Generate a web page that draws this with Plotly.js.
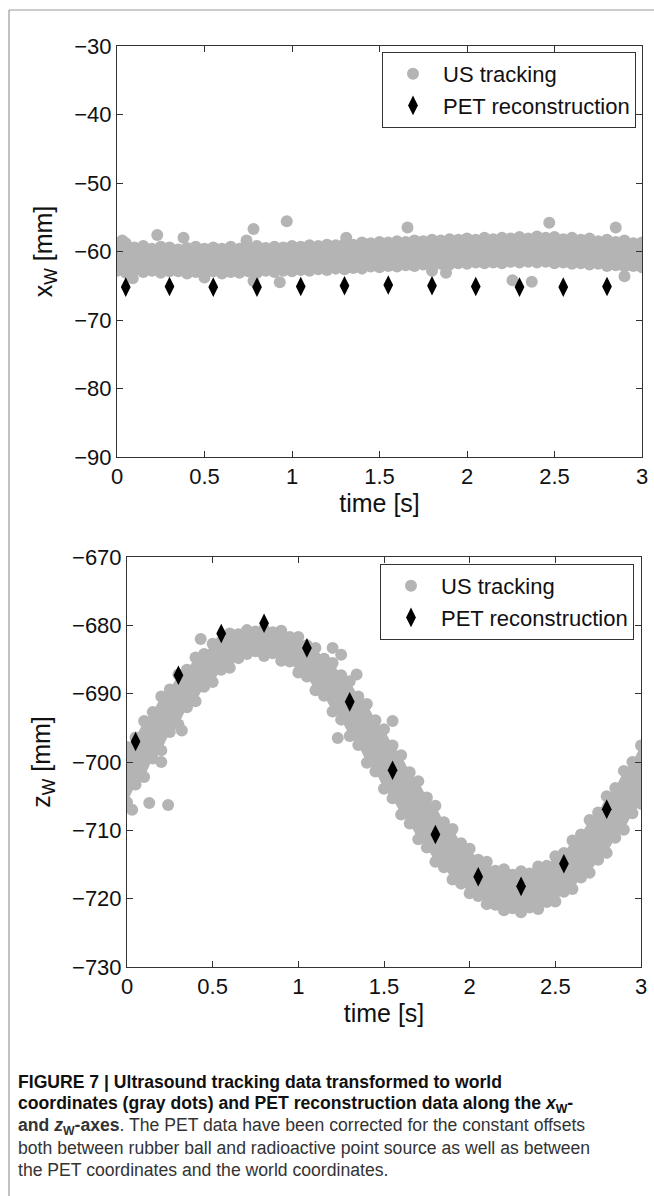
<!DOCTYPE html>
<html>
<head>
<meta charset="utf-8">
<script src="https://cdn.plot.ly/plotly-3.0.1.min.js"></script>
<style>html,body{margin:0;padding:0;background:#fff;}#chart{width:654px;height:1196px;}</style>
</head>
<body>
<div id="chart"></div>
<script>
// ---- data ----
const usTime = [0,0.05,0.1,0.15,0.2,0.25,0.3,0.35,0.4,0.45,0.5,0.55,0.6,0.65,0.7,0.75,0.8,0.85,0.9,0.95,1,1.05,1.1,1.15,1.2,1.25,1.3,1.35,1.4,1.45,1.5,1.55,1.6,1.65,1.7,1.75,1.8,1.85,1.9,1.95,2,2.05,2.1,2.15,2.2,2.25,2.3,2.35,2.4,2.45,2.5,2.55,2.6,2.65,2.7,2.75,2.8,2.85,2.9,2.95,3];

// x_W : upper and lower edge of the US tracking band (dot centres)
const usXUpper = [-59.1,-58.8,-59.4,-59.2,-59.6,-59.3,-59.4,-59.7,-59.5,-59.3,-59.6,-59.4,-59.6,-59.3,-59.6,-59.4,-59.2,-59.5,-59.3,-59.4,-59.2,-59.3,-59.1,-59.2,-59.0,-59.1,-58.9,-59.0,-58.7,-58.8,-58.6,-58.7,-58.5,-58.6,-58.4,-58.5,-58.3,-58.4,-58.2,-58.3,-58.1,-58.3,-58.0,-58.2,-58.0,-58.1,-57.9,-58.1,-57.8,-58.0,-57.9,-58.2,-58.0,-58.3,-58.1,-58.5,-58.3,-58.6,-58.4,-58.8,-58.7];
const usXLower = [-62.8,-63.1,-62.7,-63.0,-62.8,-63.1,-62.9,-62.9,-63.2,-63.0,-63.1,-62.9,-63.2,-63.0,-63.1,-62.9,-63.1,-62.8,-63.0,-62.8,-62.9,-62.7,-62.8,-62.6,-62.7,-62.5,-62.6,-62.4,-62.5,-62.2,-62.3,-62.1,-62.2,-62.0,-62.1,-61.9,-62.0,-61.8,-61.9,-61.7,-61.8,-61.6,-61.7,-61.6,-61.7,-61.5,-61.6,-61.5,-61.6,-61.5,-61.7,-61.6,-61.8,-61.7,-61.9,-61.8,-62.1,-62.0,-62.2,-62.1,-62.3];
const usXOutT = [0.03,0.23,0.38,0.74,0.78,0.97,1.31,1.66,2.47,2.85,0.09,0.5,0.78,0.93,1.8,1.88,2.26,2.37,2.9];
const usXOutV = [-58.4,-57.6,-58.0,-58.4,-56.7,-55.6,-58.0,-56.5,-55.8,-56.5,-63.9,-63.8,-64.3,-64.5,-62.8,-63.1,-64.2,-64.4,-63.6];

// z_W : upper and lower edge of the US tracking band (dot centres)
const usZUpper = [-697.8,-696.4,-694.0,-692.7,-690.4,-689.4,-687.2,-686.5,-684.7,-684.2,-682.7,-682.4,-681.2,-681.3,-680.7,-680.9,-680.6,-681.0,-680.8,-681.7,-681.7,-682.9,-683.3,-684.9,-685.5,-687.3,-688.2,-690.4,-691.5,-693.9,-695.2,-697.6,-699.0,-701.5,-702.8,-705.2,-706.4,-708.8,-709.8,-711.9,-712.7,-714.3,-714.6,-715.9,-715.7,-716.5,-716.0,-716.3,-715.3,-715.2,-713.8,-713.3,-711.5,-710.6,-708.5,-707.4,-705.0,-703.8,-701.3,-700.0,-697.6];
const usZLower = [-705.9,-703.3,-702.2,-699.5,-698.3,-695.6,-694.5,-692.0,-691.1,-689.0,-688.3,-686.5,-686.2,-684.8,-684.2,-683.8,-684.5,-684.1,-685.2,-685.3,-686.9,-687.5,-689.5,-690.3,-692.6,-693.8,-696.2,-697.5,-700.1,-701.4,-703.9,-705.3,-707.7,-709.0,-711.3,-712.5,-714.6,-715.4,-717.2,-717.8,-719.2,-719.6,-720.8,-720.9,-721.7,-721.4,-722.0,-721.3,-721.5,-720.5,-720.4,-719.0,-718.6,-716.9,-716.2,-714.3,-713.3,-711.1,-709.9,-707.5,-706.1];
const usZOutT = [0.03,0.13,0.24,0.2,0.32,0.43,1.2,1.25,1.34,1.23,1.55,2.3];
const usZOutV = [-707.0,-706.0,-706.3,-700.0,-695.4,-682.0,-683.3,-684.3,-687.2,-696.5,-694.0,-716.2];

// PET reconstruction
const petTime = [0.05,0.3,0.55,0.8,1.05,1.3,1.55,1.8,2.05,2.3,2.55,2.8];
const petX = [-65.2,-65.1,-65.2,-65.2,-65.1,-65.0,-64.9,-65.0,-65.1,-65.2,-65.2,-65.1];
const petZ = [-697.0,-687.3,-681.2,-679.7,-683.3,-691.2,-701.2,-710.6,-716.8,-718.2,-714.9,-706.9];

// caption lines
const captionLines = [
  '<b>FIGURE 7 | Ultrasound tracking data transformed to world</b>',
  '<b>coordinates (gray dots) and PET reconstruction data along the <i>x</i><sub>W</sub>-</b>',
  '<b>and <i>z</i><sub>W</sub>-axes</b>. The PET data have been corrected for the constant offsets',
  'both between rubber ball and radioactive point source as well as between',
  'the PET coordinates and the world coordinates.'
];

// ---- styling ----
const GRAY = '#b4b4b4';
const FONT = 'Liberation Sans, Arial, Helvetica, sans-serif';
const dot = {color: GRAY, size: 12, symbol: 'circle', line: {width: 0}};
const diamond = {color: '#000', size: 14, symbol: 'diamond-tall', line: {width: 0}};

function band(xa, ya, upper, lower) {
  return [
    {x: usTime, y: upper, xaxis: xa, yaxis: ya, mode: 'lines', line: {width: 0, color: GRAY}, showlegend: false, hoverinfo: 'skip'},
    {x: usTime, y: lower, xaxis: xa, yaxis: ya, mode: 'lines', line: {width: 0, color: GRAY}, fill: 'tonexty', fillcolor: GRAY, showlegend: false, hoverinfo: 'skip'},
    {x: usTime, y: upper, xaxis: xa, yaxis: ya, mode: 'markers', marker: dot, showlegend: false, hoverinfo: 'skip'},
    {x: usTime, y: lower, xaxis: xa, yaxis: ya, mode: 'markers', marker: dot, showlegend: false, hoverinfo: 'skip'}
  ];
}

const traces = [].concat(
  band('x', 'y', usXUpper, usXLower),
  [{x: usXOutT, y: usXOutV, xaxis: 'x', yaxis: 'y', mode: 'markers', marker: dot, name: 'US tracking', legend: 'legend'},
   {x: petTime, y: petX, xaxis: 'x', yaxis: 'y', mode: 'markers', marker: diamond, name: 'PET reconstruction', legend: 'legend'}],
  band('x2', 'y2', usZUpper, usZLower),
  [{x: usZOutT, y: usZOutV, xaxis: 'x2', yaxis: 'y2', mode: 'markers', marker: dot, name: 'US tracking', legend: 'legend2'},
   {x: petTime, y: petZ, xaxis: 'x2', yaxis: 'y2', mode: 'markers', marker: diamond, name: 'PET reconstruction', legend: 'legend2'}]
);

function axis(extra) {
  return Object.assign({
    ticks: 'inside', ticklen: 6, tickcolor: '#333', tickwidth: 1,
    showline: true, linecolor: '#333', linewidth: 1, mirror: 'ticks',
    showgrid: false, zeroline: false,
    tickfont: {family: FONT, size: 22, color: '#111'}
  }, extra);
}

const W = 654, H = 1196;
const legendBase = {
  xanchor: 'right', yanchor: 'top', bgcolor: '#fff', bordercolor: '#333', borderwidth: 1,
  font: {family: FONT, size: 22, color: '#111'}, itemwidth: 50, tracegroupgap: 0, traceorder: 'normal'
};
const titleFont = {family: FONT, size: 25, color: '#111'};

const captionY = [1082, 1104, 1126, 1148, 1170];
const annotations = captionLines.map((t, i) => ({
  xref: 'paper', yref: 'paper', x: 16 / W, y: 1 - captionY[i] / H, xanchor: 'left', yanchor: 'middle', align: 'left',
  showarrow: false, font: {family: FONT, size: 17.6, color: i < 2 ? '#111' : '#333'}, text: t
}));

const layout = {
  width: W, height: H,
  margin: {l: 0, r: 0, t: 0, b: 0},
  paper_bgcolor: '#fff', plot_bgcolor: '#fff',
  font: {family: FONT, color: '#111'},
  xaxis: axis({domain: [117 / W, 642 / W], range: [0, 3], dtick: 0.5, tick0: 0, anchor: 'y',
    title: {text: 'time [s]', font: titleFont, standoff: 2}}),
  yaxis: axis({domain: [1 - 457 / H, 1 - 46 / H], range: [-90, -30], dtick: 10, tick0: -90, anchor: 'x',
    title: {text: 'x<sub>W</sub> [mm]', font: titleFont, standoff: 14}}),
  xaxis2: axis({domain: [127 / W, 641 / W], range: [0, 3], dtick: 0.5, tick0: 0, anchor: 'y2',
    title: {text: 'time [s]', font: titleFont, standoff: 2}}),
  yaxis2: axis({domain: [1 - 967 / H, 1 - 557 / H], range: [-730, -670], dtick: 10, tick0: -730, anchor: 'x2',
    title: {text: 'z<sub>W</sub> [mm]', font: titleFont, standoff: 14}}),
  legend: Object.assign({x: 636 / W, y: 1 - 52 / H}, legendBase),
  legend2: Object.assign({x: 634 / W, y: 1 - 564 / H}, legendBase),
  shapes: [
    {type: 'line', xref: 'paper', yref: 'paper', x0: 9 / W, x1: 9 / W, y0: 0, y1: 1 - 10 / H, line: {color: '#999', width: 1.2}},
    {type: 'line', xref: 'paper', yref: 'paper', x0: 9 / W, x1: 1, y0: 1 - 10 / H, y1: 1 - 10 / H, line: {color: '#999', width: 1.2}}
  ],
  annotations: annotations
};

Plotly.newPlot('chart', traces, layout, {displayModeBar: false, staticPlot: true});
</script>
</body>
</html>
